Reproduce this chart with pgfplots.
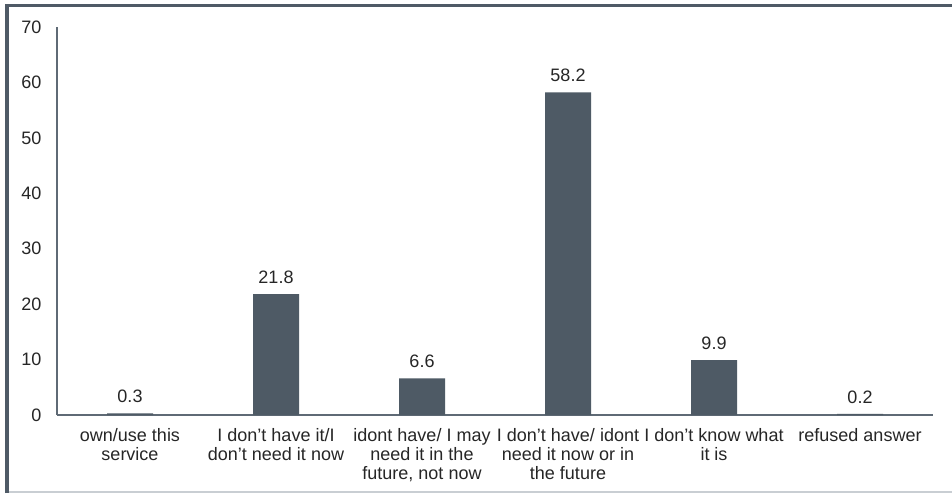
\documentclass[border=0pt]{standalone}
\usepackage{fontspec}
\setmainfont{Liberation Sans}
\usepackage{pgfplots}
\pgfplotsset{compat=1.18}
\definecolor{barfill}{HTML}{4E5A65}
\definecolor{axisgray}{HTML}{5F6A75}
\definecolor{framedark}{HTML}{4F5A66}
\definecolor{framelight}{HTML}{C9CED3}
\definecolor{txt}{HTML}{262626}
\newcommand{\chartfont}{\fontsize{18}{19}\selectfont}
\begin{document}
\begin{tikzpicture}[x=1pt,y=1pt]
\useasboundingbox (0,0) rectangle (952,493);
\fill[white] (0,0) rectangle (952,493);
% outer frame
\draw[framelight, line width=1.5pt] (7,1) -- (952,1);
\draw[framedark, line width=4pt] (7,0) -- (7,487.5);
\draw[framedark, line width=3pt] (5,487.5) -- (952,487.5);
\begin{axis}[
  at={(57pt,78pt)}, anchor=south west,
  scale only axis,
  width=876pt, height=388pt,
  xmin=-0.5, xmax=5.5,
  ymin=0, ymax=70,
  ytick={0,10,...,70},
  xtick={0,...,5},
  xticklabels={
    {own/use this\\service},
    {I don’t have it/I\\don’t need it now},
    {idont have/ I may\\need it in the\\future, not now},
    {I don’t have/ idont\\need it now or in\\the future},
    {I don’t know what\\it is},
    {refused answer}},
  xticklabel style={align=center, text=txt, font=\chartfont, yshift=-10pt},
  yticklabel style={text=txt, font=\chartfont, xshift=-12pt},
  /pgf/number format/assume math mode=true,
  major tick length=0pt,
  axis x line*=bottom,
  axis y line*=left,
  axis line style={axisgray, line width=1.2pt, -},
  clip=false,
  nodes near coords,
  nodes near coords style={text=txt, font=\chartfont, anchor=south, yshift=7pt,
    /pgf/number format/fixed, /pgf/number format/fixed zerofill, /pgf/number format/precision=1},
]
\addplot[ybar, bar width=46pt, fill=barfill, draw=none] coordinates {
  (0,0.3) (1,21.8) (2,6.6) (3,58.2) (4,9.9) (5,0.2)
};
\end{axis}
\end{tikzpicture}
\end{document}
